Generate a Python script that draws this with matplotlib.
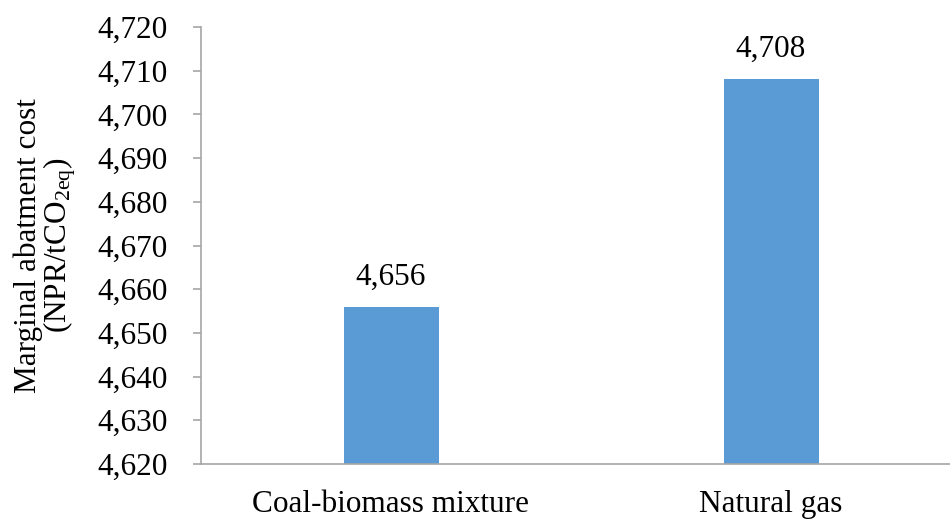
import matplotlib.pyplot as plt
from matplotlib.ticker import FuncFormatter

# ---------------- Data ----------------
fuels = ["Coal-biomass mixture", "Natural gas"]
costs = [4656, 4708]
yticks = list(range(4620, 4721, 10))

plt.rcParams['font.family'] = ['Liberation Serif', 'DejaVu Serif']
plt.rcParams['mathtext.fontset'] = 'custom'
plt.rcParams['mathtext.rm'] = 'Liberation Serif'
plt.rcParams['mathtext.it'] = 'Liberation Serif'

FS = 22.5

fig = plt.figure(figsize=(9.5, 5.19), dpi=100)
ax = fig.add_axes([201 / 950, 55 / 519, 760 / 950, 437 / 519])

x = list(range(len(fuels)))
bars = ax.bar(x, costs, width=0.25, color='#5B9BD5', zorder=2)

# value labels above each bar
for bar, value in zip(bars, costs):
    ax.annotate(f"{value:,}", (bar.get_x() + bar.get_width() / 2, value),
                xytext=(0, 11), textcoords='offset points',
                ha='center', va='bottom', fontsize=FS)

ax.set_xlim(-0.5, 1.5)
ax.set_ylim(4620, 4720)
ax.set_yticks(yticks)
ax.yaxis.set_major_formatter(FuncFormatter(lambda v, p: f"{int(v):,}"))
ax.set_xticks(x)
ax.set_xticklabels(fuels)

ax.tick_params(axis='y', labelsize=FS, length=6, width=1.2, color='#A6A6A6', pad=18)
ax.tick_params(axis='x', labelsize=FS, length=0, pad=19)

for side in ['top', 'right']:
    ax.spines[side].set_visible(False)
for side in ['left', 'bottom']:
    ax.spines[side].set_color('#A6A6A6')
    ax.spines[side].set_linewidth(1.2)

ax.set_ylabel("Marginal abatment cost\n(NPR/tCO$_{2\\mathrm{eq}}$)",
              fontsize=FS, linespacing=0.95, labelpad=14)

fig.savefig("out.png", dpi=100)
